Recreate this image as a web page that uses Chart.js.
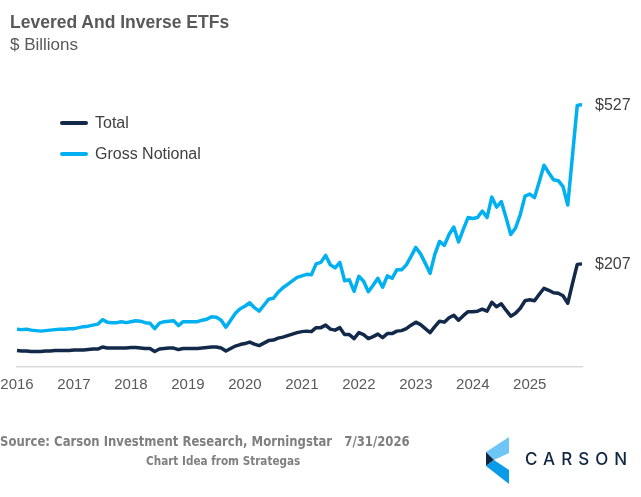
<!DOCTYPE html>
<html>
<head>
<meta charset="utf-8">
<script src="https://cdn.jsdelivr.net/npm/chart.js@4.4.1/dist/chart.umd.min.js"></script>
<style>
  body {
    margin: 0;
    width: 641px;
    height: 497px;
    background: #fff;
    position: relative;
    overflow: hidden;
    font-family: "Liberation Sans", Arial, sans-serif;
  }
  #chart-wrap {
    position: absolute;
    left: 0;
    top: 0;
    width: 641px;
    height: 497px;
  }
  .title {
    position: absolute;
    left: 10px;
    top: 13.5px;
    font-size: 17.5px;
    line-height: 1;
    font-weight: bold;
    color: #595959;
    white-space: nowrap;
  }
  .subtitle {
    position: absolute;
    left: 10px;
    top: 35.6px;
    font-size: 17px;
    line-height: 1;
    color: #595959;
  }
  .legend-item {
    position: absolute;
    left: 60px;
    font-size: 16px;
    line-height: 1;
    color: #404040;
    white-space: nowrap;
  }
  .legend-item .swatch {
    position: absolute;
    left: 0;
    width: 28px;
    height: 4px;
    border-radius: 2px;
  }
  .legend-item span.label {
    position: absolute;
    left: 35px;
    top: 0;
  }
  .source, .idea {
    position: absolute;
    font-family: "Liberation Sans Narrow", "DejaVu Sans Condensed", sans-serif;
    font-weight: bold;
    line-height: 1;
    color: #7f7f7f;
    transform-origin: 0 0;
    transform: scaleX(0.895);
  }
  .source {
    left: 0;
    top: 434px;
    font-size: 14.5px;
    white-space: pre;
  }
  .idea {
    left: 146px;
    top: 454px;
    font-size: 13px;
    white-space: nowrap;
  }
  .logo-text {
    position: absolute;
    left: 525px;
    top: 451px;
    font-family: Inter, "Liberation Sans", sans-serif;
    font-weight: 500;
    font-size: 17px;
    line-height: 1;
    letter-spacing: 6px;
    color: #0f2743;
  }
  .logo-icon {
    position: absolute;
    left: 0;
    top: 0;
  }
</style>
</head>
<body>
<div id="chart-wrap"><canvas id="etfChart"></canvas></div>

<div class="title">Levered And Inverse ETFs</div>
<div class="subtitle">$ Billions</div>

<div class="legend-item" style="top:114.8px">
  <div class="swatch" style="top:6px;background:#12294a"></div>
  <span class="label">Total</span>
</div>
<div class="legend-item" style="top:145.8px">
  <div class="swatch" style="top:6px;background:#00b0f0"></div>
  <span class="label">Gross Notional</span>
</div>

<div class="source">Source: Carson Investment Research, Morningstar   7/31/2026</div>
<div class="idea">Chart Idea from Strategas</div>

<svg class="logo-icon" width="641" height="497" viewBox="0 0 641 497">
  <polygon points="486,452 509,437 509,453 494,460" fill="#6ec6f6"></polygon>
  <polygon points="486,452 494,460 486,466" fill="#0f2743"></polygon>
  <polygon points="486,466 494,460 509,470 509,484" fill="#0a9be8"></polygon>
</svg>
<div class="logo-text">CARSON</div>

<script>
// monthly, Jan 2016 .. Dec 2025
const years = ["2016", "2017", "2018", "2019", "2020", "2021", "2022", "2023", "2024", "2025"];
const monthCodes = ["01", "02", "03", "04", "05", "06", "07", "08", "09", "10", "11", "12"];
const months = [];
years.forEach((y) => monthCodes.forEach((m) => months.push(`${y}-${m}`)));

// $ billions
const totalValues = [
  33, 32, 32, 31, 31, 31, 32, 32, 33, 33, 33, 33,
  34, 34, 34, 35, 36, 36, 40, 38, 38, 38, 38, 38,
  39, 39, 38, 37, 37, 31, 36, 37, 38, 38, 35, 37,
  37, 37, 37, 38, 39, 40, 40, 38, 32, 37, 42, 45,
  47, 50, 46, 43, 48, 53, 54, 58, 60, 63, 66, 69,
  71, 72, 71, 79, 79, 84, 76, 74, 79, 65, 65, 57,
  69, 65, 57, 61, 66, 59, 67, 67, 72, 73, 77, 84,
  90, 85, 77, 69, 81, 92, 90, 99, 104, 94, 103, 111,
  111, 112, 116, 112, 130, 121, 127, 114, 102, 108, 118, 133,
  135, 133, 146, 158, 154, 149, 148, 143, 128, 168, 206, 207,
];

const grossValues = [
  76, 75, 76, 74, 73, 72, 73, 74, 75, 76, 76, 77,
  77, 79, 81, 82, 84, 86, 95, 90, 89, 89, 91, 89,
  91, 93, 92, 89, 88, 77, 88, 91, 92, 93, 83, 91,
  91, 91, 91, 94, 96, 101, 100, 94, 80, 94, 108, 117,
  122, 129, 119, 112, 124, 136, 138, 150, 159, 166, 173, 180,
  183, 186, 185, 207, 210, 224, 205, 199, 210, 173, 175, 152,
  182, 172, 151, 164, 178, 160, 183, 178, 195, 195, 205, 222,
  240, 227, 208, 188, 226, 252, 244, 266, 281, 251, 276, 300,
  298, 300, 313, 300, 341, 321, 332, 300, 266, 279, 306, 343,
  347, 340, 372, 405, 390, 376, 374, 362, 325, 425, 525, 527,
];

const seriesNames = ["Total", "Gross Notional"];
const seriesColors = ["#12294a", "#00b0f0"];

// puts "$527" style labels just right of each line's last point
const endLabels = {
  id: "endLabels",
  afterDatasetsDraw(chart) {
    const ctx = chart.ctx;
    ctx.save();
    ctx.font = '16px "Liberation Sans", Arial, sans-serif';
    ctx.fillStyle = "#404040";
    ctx.textAlign = "left";
    ctx.textBaseline = "middle";
    chart.data.datasets.forEach((ds, i) => {
      const meta = chart.getDatasetMeta(i);
      const last = meta.data[meta.data.length - 1];
      const value = ds.data[ds.data.length - 1];
      ctx.fillText(`$${value}`, last.x + 13, last.y + 1);
    });
    ctx.restore();
  },
};

const ctx = document.getElementById("etfChart").getContext("2d");
new Chart(ctx, {
  type: "line",
  data: {
    labels: months,
    datasets: [
      {
        label: seriesNames[0],
        data: totalValues,
        borderColor: seriesColors[0],
        borderWidth: 3.5,
        pointRadius: 0,
        tension: 0,
        borderJoinStyle: "round",
      },
      {
        label: seriesNames[1],
        data: grossValues,
        borderColor: seriesColors[1],
        borderWidth: 3.5,
        pointRadius: 0,
        tension: 0,
        borderJoinStyle: "round",
      },
    ],
  },
  options: {
    responsive: true,
    maintainAspectRatio: false,
    animation: false,
    layout: {
      padding: { top: 88, left: 17, right: 59, bottom: 103 },
    },
    plugins: {
      legend: { display: false },
      tooltip: { enabled: false },
    },
    scales: {
      x: {
        type: "category",
        offset: false,
        // invisible tick marks give the label gap without widening the left edge
        grid: {
          display: true,
          drawOnChartArea: false,
          drawTicks: true,
          tickLength: 9,
          tickColor: "rgba(0,0,0,0)",
        },
        border: { display: true, color: "#d9d9d9", width: 1.5 },
        ticks: {
          autoSkip: false,
          maxRotation: 0,
          padding: 0,
          color: "#595959",
          font: { family: '"Liberation Sans", Arial, sans-serif', size: 15 },
          callback: function (value) {
            const label = this.getLabelForValue(value);
            return label.endsWith("-01") ? label.slice(0, 4) : "";
          },
        },
      },
      y: {
        display: false,
        min: 0,
        max: 560,
      },
    },
  },
  plugins: [endLabels],
});
</script>
</body>
</html>
